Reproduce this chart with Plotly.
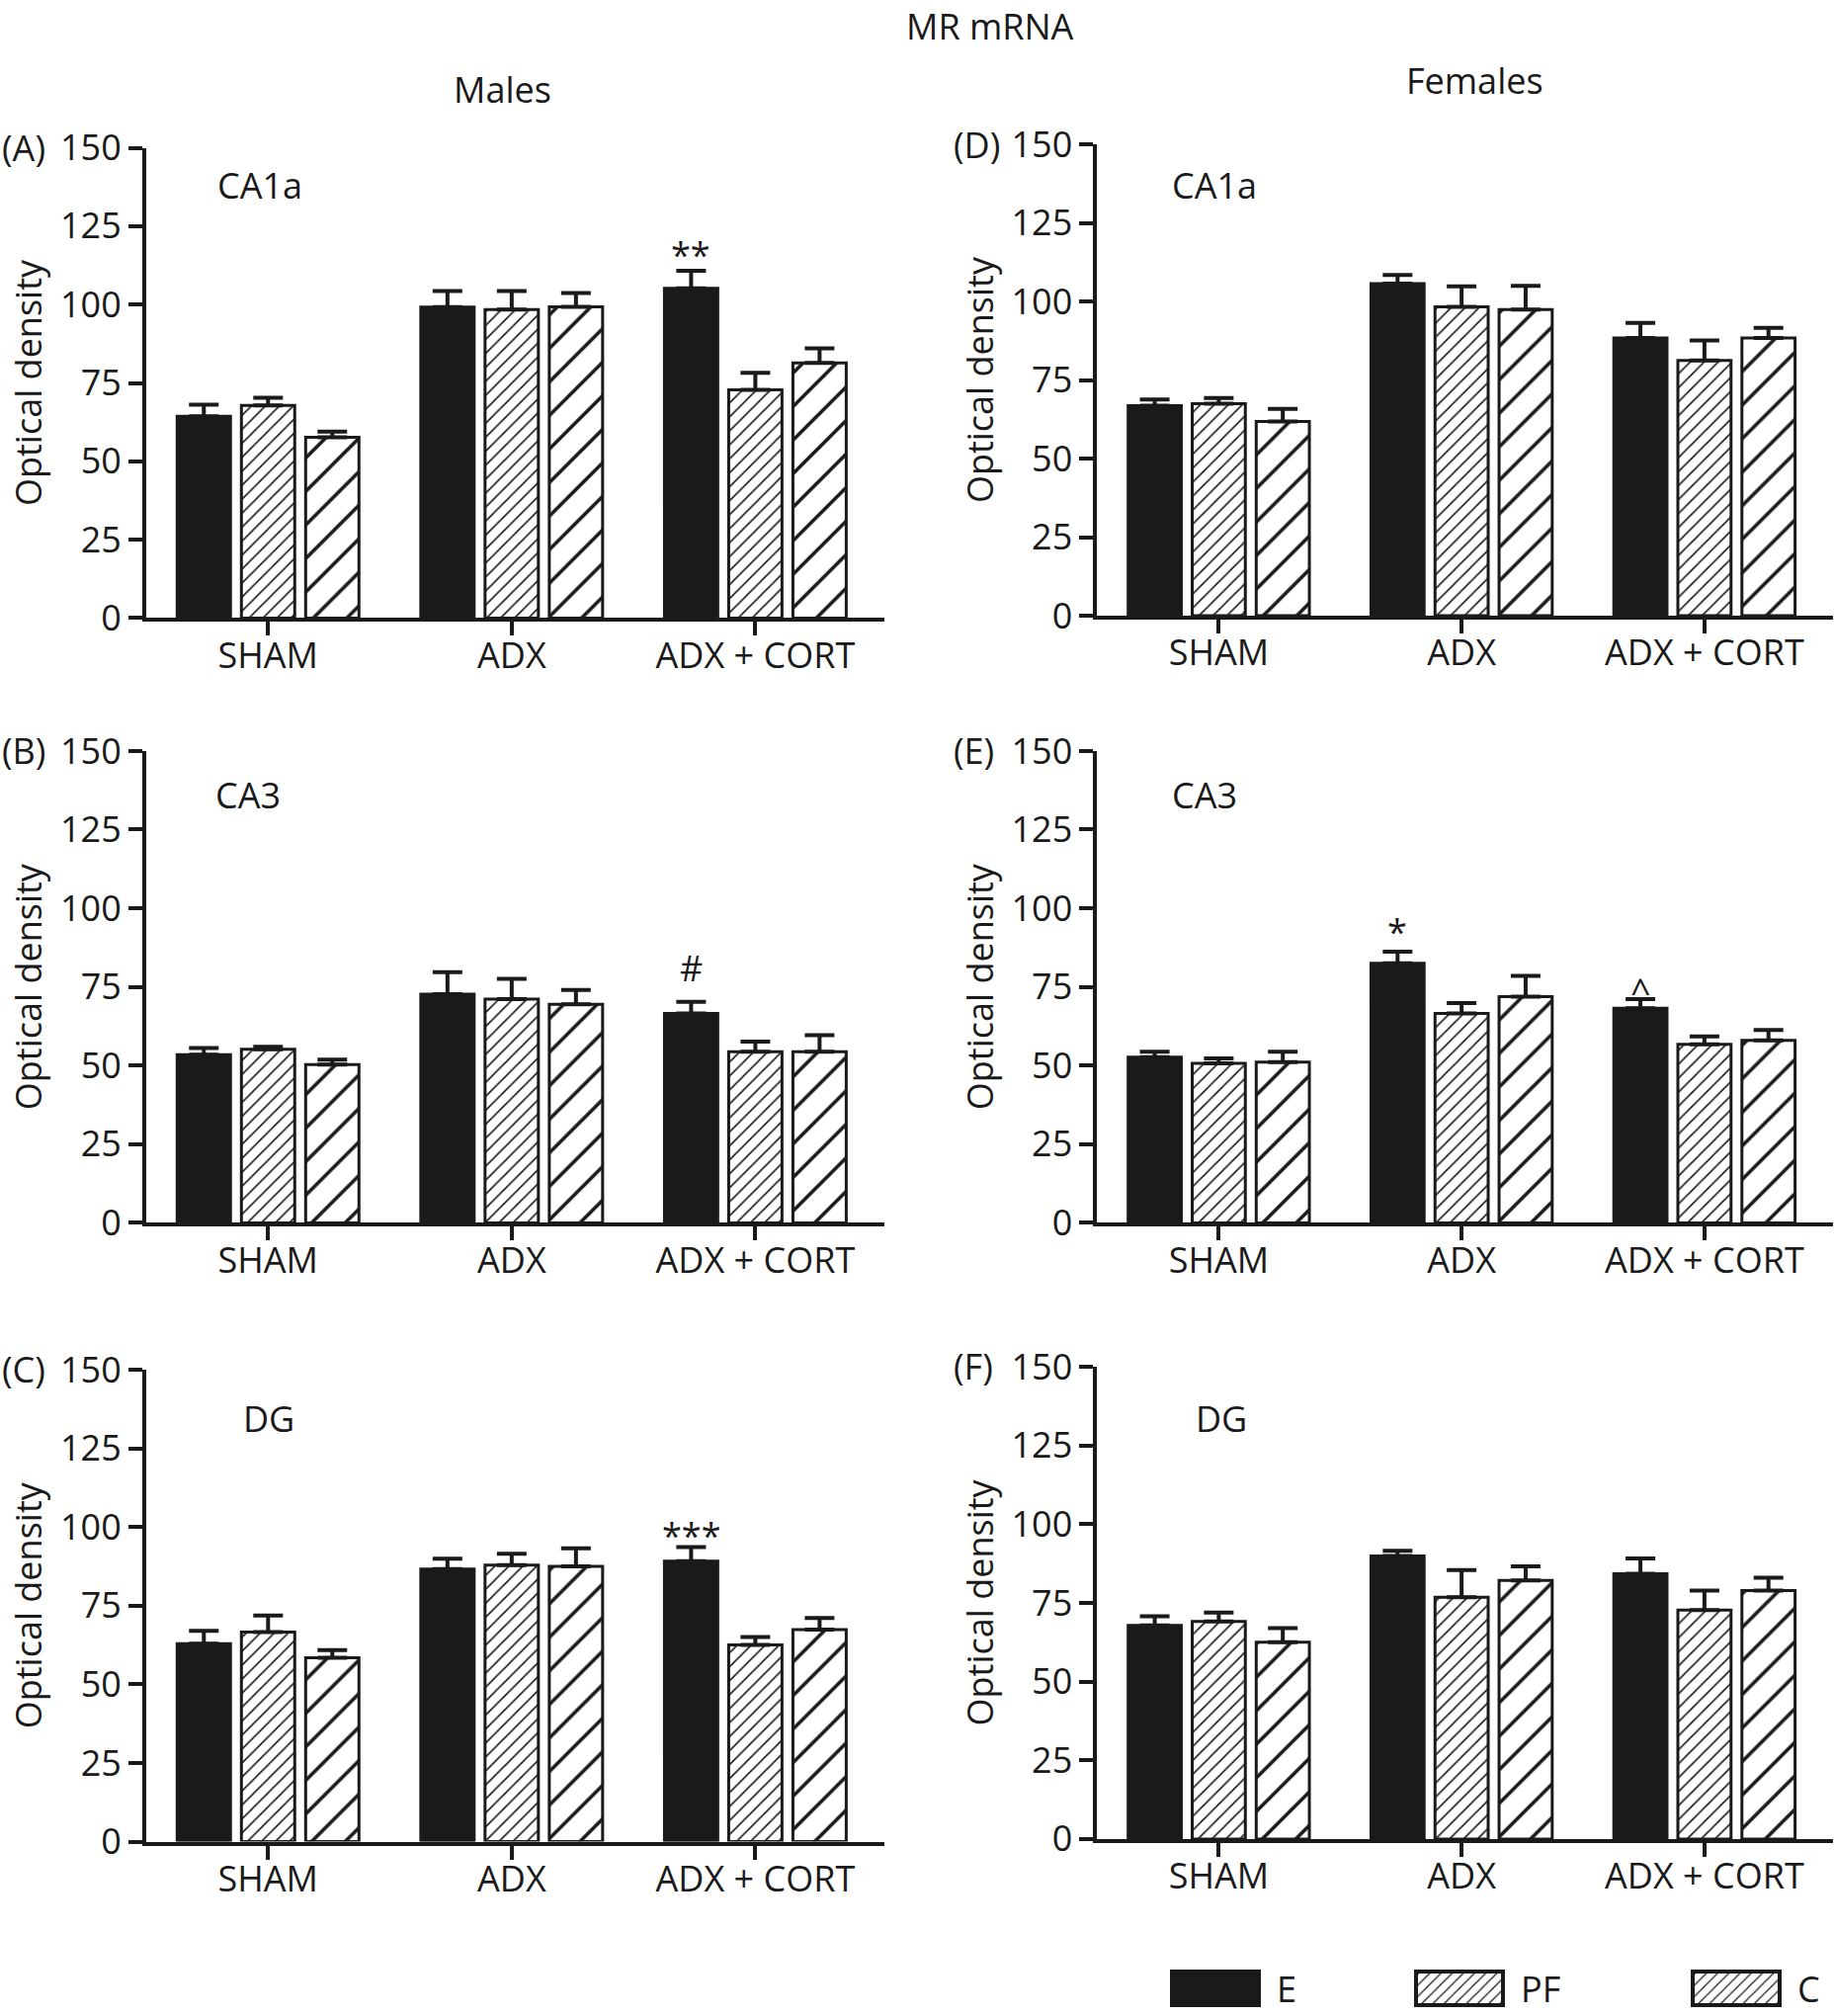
import plotly.graph_objects as go

# ---------------- data ----------------
categories = ["SHAM", "ADX", "ADX + CORT"]
series_names = ["E", "PF", "C"]
y_tick_values = [0, 25, 50, 75, 100, 125, 150]

# (A) Males CA1a
a_E = [64.4, 99.2, 105.2]
a_PF = [67.8, 98.4, 72.8]
a_C = [57.7, 99.3, 81.4]
a_E_err = [3.7, 5.1, 5.6]
a_PF_err = [2.5, 5.9, 5.4]
a_C_err = [1.8, 4.4, 4.6]

# (B) Males CA3
b_E = [53.5, 72.7, 66.6]
b_PF = [55.2, 71.1, 54.4]
b_C = [50.3, 69.5, 54.4]
b_E_err = [2.1, 7.0, 3.7]
b_PF_err = [0.8, 6.5, 3.2]
b_C_err = [1.6, 4.5, 5.3]

# (C) Males DG
c_E = [62.9, 86.6, 89.1]
c_PF = [66.6, 87.9, 62.5]
c_C = [58.4, 87.5, 67.4]
c_E_err = [4.1, 3.3, 4.5]
c_PF_err = [5.3, 3.6, 2.5]
c_C_err = [2.5, 5.7, 3.7]

# (D) Females CA1a
d_E = [66.8, 105.7, 88.4]
d_PF = [67.5, 98.3, 81.2]
d_C = [61.8, 97.4, 88.4]
d_E_err = [2.0, 2.7, 4.8]
d_PF_err = [1.8, 6.5, 6.4]
d_C_err = [4.0, 7.6, 3.2]

# (E) Females CA3
e_E = [52.7, 82.5, 68.2]
e_PF = [50.7, 66.6, 56.8]
e_C = [51.1, 71.9, 58.0]
e_E_err = [1.7, 3.7, 2.9]
e_PF_err = [1.6, 3.3, 2.5]
e_C_err = [3.3, 6.6, 3.3]

# (F) Females DG
f_E = [67.8, 89.9, 84.2]
f_PF = [69.1, 76.8, 72.7]
f_C = [62.5, 82.1, 78.9]
f_E_err = [2.9, 1.6, 4.9]
f_PF_err = [2.8, 8.6, 6.2]
f_C_err = [4.5, 4.5, 4.1]

# significance marks: (symbol, category index, y)
a_sig = ("**", 2, 116.0)
b_sig = ("#", 2, 81.0)
c_sig = ("***", 2, 97.5)
e_sig1 = ("*", 1, 92.5)
e_sig2 = ("^", 2, 73.5)

# ---------------- styling ----------------
INK = "#1a1a1a"
FONT = "Open Sans, Liberation Sans, sans-serif"
FS = 36
W, H = 1857, 2040

panels = [
    dict(letter="(A)", region="CA1a", vals=[a_E, a_PF, a_C], errs=[a_E_err, a_PF_err, a_C_err],
         xd=[0.0797, 0.482], yd=[0.6934, 0.9267], reg_xy=(-0.215, 138.0), sigs=[a_sig]),
    dict(letter="(B)", region="CA3", vals=[b_E, b_PF, b_C], errs=[b_E_err, b_PF_err, b_C_err],
         xd=[0.0797, 0.482], yd=[0.3934, 0.6275], reg_xy=(-0.225, 136.0), sigs=[b_sig]),
    dict(letter="(C)", region="DG", vals=[c_E, c_PF, c_C], errs=[c_E_err, c_PF_err, c_C_err],
         xd=[0.0797, 0.482], yd=[0.0865, 0.3206], reg_xy=(-0.11, 134.5), sigs=[c_sig]),
    dict(letter="(D)", region="CA1a", vals=[d_E, d_PF, d_C], errs=[d_E_err, d_PF_err, d_C_err],
         xd=[0.598, 0.999], yd=[0.6946, 0.9284], reg_xy=(-0.2, 137.0), sigs=[]),
    dict(letter="(E)", region="CA3", vals=[e_E, e_PF, e_C], errs=[e_E_err, e_PF_err, e_C_err],
         xd=[0.598, 0.999], yd=[0.3934, 0.6275], reg_xy=(-0.2, 136.0), sigs=[e_sig1, e_sig2]),
    dict(letter="(F)", region="DG", vals=[f_E, f_PF, f_C], errs=[f_E_err, f_PF_err, f_C_err],
         xd=[0.598, 0.999], yd=[0.0878, 0.3221], reg_xy=(-0.105, 133.5), sigs=[]),
]

markers = {
    "E": dict(color=INK, line=dict(color=INK, width=3)),
    "PF": dict(color="white", line=dict(color=INK, width=3),
               pattern=dict(shape="/", fgcolor=INK, bgcolor="white", size=10, solidity=0.16, fillmode="replace")),
    "C": dict(color="white", line=dict(color=INK, width=3),
              pattern=dict(shape="/", fgcolor=INK, bgcolor="white", size=24, solidity=0.15, fillmode="replace")),
}
legend_ids = {"E": "legend", "PF": "legend2", "C": "legend3"}

fig = go.Figure()
annotations = []
layout_axes = {}
slot = 0.2636  # offset of neighbouring bars within a group (category units)

for i, p in enumerate(panels):
    n = "" if i == 0 else str(i + 1)
    xa, ya = "x" + n, "y" + n
    for j, name in enumerate(series_names):
        fig.add_trace(go.Bar(
            x=categories, y=p["vals"][j], name=name,
            xaxis=xa, yaxis=ya, offsetgroup=name,
            marker=markers[name],
            error_y=dict(type="data", array=p["errs"][j], arrayminus=[0] * len(categories),
                         symmetric=False, thickness=4, width=15, color=INK),
            showlegend=(i == 0), legend=legend_ids[name],
        ))
    layout_axes["xaxis" + n] = dict(
        domain=p["xd"], anchor=ya, type="category", categoryorder="array", categoryarray=categories,
        range=[-0.5, 2.53], showline=True, linecolor=INK, linewidth=4, ticks="outside",
        ticklen=14, tickwidth=4, tickcolor=INK, showgrid=False, zeroline=False,
        ticklabelstandoff=-11,
        tickfont=dict(family=FONT, size=FS, color=INK), fixedrange=True,
    )
    layout_axes["yaxis" + n] = dict(
        domain=p["yd"], anchor=xa, range=[0, 150], tickvals=y_tick_values,
        showline=True, linecolor=INK, linewidth=4, ticks="outside", ticklen=14, tickwidth=4,
        tickcolor=INK, showgrid=False, zeroline=False,
        tickfont=dict(family=FONT, size=FS, color=INK),
        title=dict(text="Optical density", font=dict(family=FONT, size=FS, color=INK), standoff=8),
        fixedrange=True,
    )
    # panel letter
    annotations.append(dict(text=p["letter"], xref="paper", yref="paper",
                            x=0.0 if p["xd"][0] < 0.5 else 0.5186, y=p["yd"][1],
                            xanchor="left", yanchor="middle", showarrow=False,
                            font=dict(family=FONT, size=FS, color=INK)))
    # region label
    annotations.append(dict(text=p["region"], xref=xa, yref=ya, x=p["reg_xy"][0], y=p["reg_xy"][1],
                            xanchor="left", yanchor="middle", showarrow=False,
                            font=dict(family=FONT, size=FS, color=INK)))
    for sym, ci, yv in p["sigs"]:
        annotations.append(dict(text=sym, xref=xa, yref=ya, x=ci - slot, y=yv,
                                xanchor="center", yanchor="middle", showarrow=False,
                                font=dict(family=FONT, size=FS, color=INK)))

annotations += [
    dict(text="MR mRNA", xref="paper", yref="paper", x=1002 / W, y=1.0,
         xanchor="center", yanchor="top", showarrow=False, font=dict(family=FONT, size=FS, color=INK)),
    dict(text="Males", xref="paper", yref="paper", x=508 / W, y=1 - 91 / H,
         xanchor="center", yanchor="middle", showarrow=False, font=dict(family=FONT, size=FS, color=INK)),
    dict(text="Females", xref="paper", yref="paper", x=1492 / W, y=1 - 82 / H,
         xanchor="center", yanchor="middle", showarrow=False, font=dict(family=FONT, size=FS, color=INK)),
]

def legend_box(xpx):
    return dict(x=xpx / W, y=1 - 2012 / H, xanchor="left", yanchor="middle", orientation="h",
                font=dict(family=FONT, size=FS, color=INK), bgcolor="rgba(0,0,0,0)",
                itemwidth=114, borderwidth=0)

fig.update_layout(
    template="none",
    width=W, height=H,
    margin=dict(l=0, r=0, t=0, b=0, autoexpand=False),
    paper_bgcolor="white", plot_bgcolor="white",
    barmode="group", bargap=0.209, bargroupgap=0.17,
    font=dict(family=FONT, size=FS, color=INK),
    annotations=annotations,
    legend=legend_box(1168), legend2=legend_box(1415), legend3=legend_box(1695),
    **layout_axes,
)

post = """
document.body.style.margin='0';
var best = null, bestW = 0;
document.querySelectorAll('pattern').forEach(function(pt){
  var w = parseFloat(pt.getAttribute('width'));
  if(!isNaN(w) && w > bestW){ bestW = w; best = pt; }
});
document.querySelectorAll('.traces').forEach(function(tr){
  var p = tr.querySelector('.legendpoints path');
  var t = tr.querySelector('.legendtext');
  if(!p) return;
  p.setAttribute('d','M44,17H-44V-17H44Z');
  p.style.strokeWidth='4px';
  if(t && t.textContent.trim() == 'C' && best && best.id){
    p.style.fill = 'url(#' + best.id + ')';
    p.setAttribute('fill', 'url(#' + best.id + ')');
  }
});
"""
fig.write_html("out.html", post_script=post, config={"displayModeBar": False})
